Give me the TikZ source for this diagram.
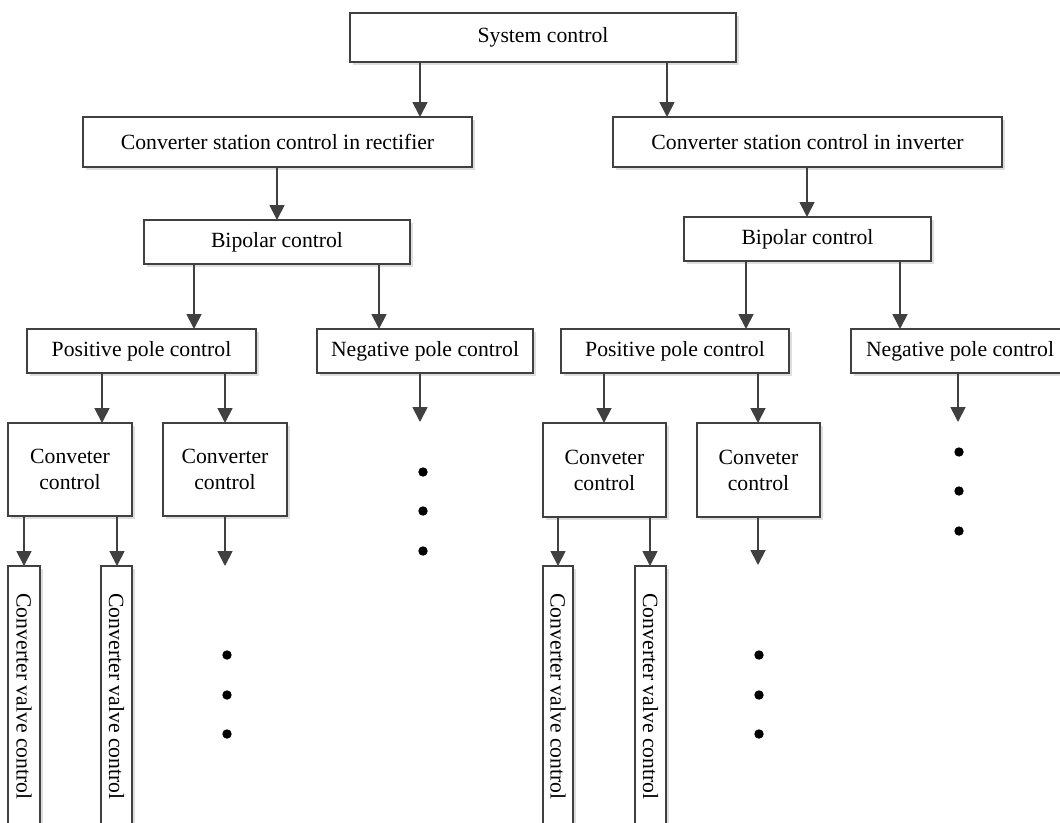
\documentclass[tikz,border=0pt]{standalone}
\usepackage{fontspec}
\setmainfont{Liberation Serif}
\usepackage{graphicx}
\usetikzlibrary{arrows.meta,shadows}
\definecolor{linec}{HTML}{404040}
\tikzset{
  box/.style={draw=linec, line width=1.6pt, fill=white, inner sep=0pt, outer sep=0pt,
    align=center, font=\fontsize{21.7}{26}\selectfont,
    drop shadow={shadow xshift=2.5pt, shadow yshift=-2.5pt, fill=black!13, opacity=1}},
  arr/.style={draw=linec, line width=1.8pt, -{Triangle[length=15pt,width=15pt]}},
  dotc/.style={fill=black}
}
\begin{document}
\begin{tikzpicture}[x=1pt,y=-1pt]
\useasboundingbox (0,0) rectangle (1060,822);
\clip (0,0) rectangle (1060,822);
% level 0
\node[box, minimum width=386, minimum height=49] (sys) at (543,37.5) {System control};
% level 1
\node[box, minimum width=389, minimum height=50] (rect) at (277.5,142) {Converter station control in rectifier};
\node[box, minimum width=389, minimum height=50] (inv) at (807.5,142) {Converter station control in inverter};
% level 2
\node[box, minimum width=266, minimum height=44] (bipL) at (277,242) {Bipolar control};
\node[box, minimum width=247, minimum height=44] (bipR) at (807.5,239) {Bipolar control};
% level 3
\node[box, minimum width=229, minimum height=44] (posL) at (141.5,351) {Positive pole control};
\node[box, minimum width=216, minimum height=44] (negL) at (425,351) {Negative pole control};
\node[box, minimum width=228, minimum height=44] (posR) at (675,351) {Positive pole control};
\node[box, minimum width=218, minimum height=44] (negR) at (960,351) {Negative pole control};
% level 4
\node[box, minimum width=124, minimum height=93] (cL1) at (70,469.5) {Conveter\\control};
\node[box, minimum width=124, minimum height=93] (cL2) at (225,469.5) {Converter\\control};
\node[box, minimum width=123, minimum height=94] (cR1) at (604.5,470) {Conveter\\control};
\node[box, minimum width=123, minimum height=94] (cR2) at (758.5,470) {Conveter\\control};
% level 5
\node[box, minimum width=32, minimum height=261] (vL1) at (24,696.5) {\rotatebox{-90}{Converter valve control}};
\node[box, minimum width=31, minimum height=261] (vL2) at (116.5,696.5) {\rotatebox{-90}{Converter valve control}};
\node[box, minimum width=30, minimum height=261] (vR1) at (558,696.5) {\rotatebox{-90}{Converter valve control}};
\node[box, minimum width=31, minimum height=261] (vR2) at (650.5,696.5) {\rotatebox{-90}{Converter valve control}};
% free ends
\coordinate (eNL) at (420,422);
\coordinate (eNR) at (958,422);
\coordinate (eL2) at (225,566);
\coordinate (eR2) at (758,565);
% connectors
\draw[arr] (420,0 |- sys.south) -- (420,0 |- rect.north);
\draw[arr] (667,0 |- sys.south) -- (667,0 |- inv.north);
\draw[arr] (277,0 |- rect.south) -- (277,0 |- bipL.north);
\draw[arr] (807,0 |- inv.south) -- (807,0 |- bipR.north);
\draw[arr] (194,0 |- bipL.south) -- (194,0 |- posL.north);
\draw[arr] (379,0 |- bipL.south) -- (379,0 |- negL.north);
\draw[arr] (746,0 |- bipR.south) -- (746,0 |- posR.north);
\draw[arr] (900,0 |- bipR.south) -- (900,0 |- negR.north);
\draw[arr] (102,0 |- posL.south) -- (102,0 |- cL1.north);
\draw[arr] (225,0 |- posL.south) -- (225,0 |- cL2.north);
\draw[arr] (eNL |- negL.south) -- (eNL);
\draw[arr] (604,0 |- posR.south) -- (604,0 |- cR1.north);
\draw[arr] (758,0 |- posR.south) -- (758,0 |- cR2.north);
\draw[arr] (eNR |- negR.south) -- (eNR);
\draw[arr] (vL1.center |- cL1.south) -- (vL1.north);
\draw[arr] (117,0 |- cL1.south) -- (117,0 |- vL2.north);
\draw[arr] (eL2 |- cL2.south) -- (eL2);
\draw[arr] (vR1.center |- cR1.south) -- (vR1.north);
\draw[arr] (650,0 |- cR1.south) -- (650,0 |- vR2.north);
\draw[arr] (eR2 |- cR2.south) -- (eR2);
% dots
\foreach \y in {472,511,551} \fill[dotc] (423,\y) circle (4.7);
\foreach \y in {452,491,531} \fill[dotc] (959,\y) circle (4.7);
\foreach \y in {655,695,734} \fill[dotc] (227,\y) circle (4.7);
\foreach \y in {655,695,734} \fill[dotc] (759,\y) circle (4.7);
\end{tikzpicture}
\end{document}
